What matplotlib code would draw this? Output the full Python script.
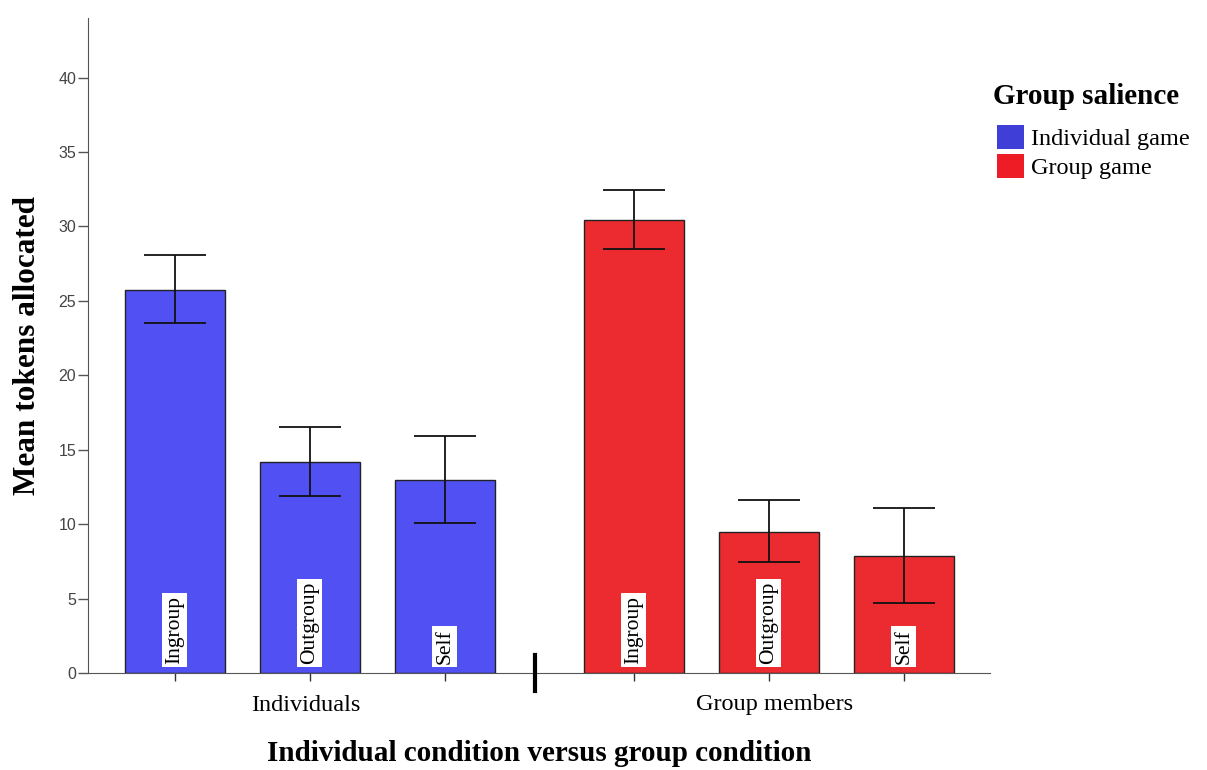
import matplotlib.pyplot as plt
from matplotlib.patches import Patch

# mean tokens and 95% CI bounds, per recipient within each condition
recipients = ["Ingroup", "Outgroup", "Self"]
groups = ["Individuals", "Group members"]
means_indiv = [25.75, 14.2, 12.97]
lo_indiv = [23.5, 11.9, 10.1]
hi_indiv = [28.1, 16.5, 15.95]
means_group = [30.45, 9.5, 7.87]
lo_group = [28.45, 7.45, 4.7]
hi_group = [32.47, 11.6, 11.1]
legend_title = "Group salience"
legend_labels = ["Individual game", "Group game"]

BLUE = "#5151F3"
RED = "#EC2B30"
SERIF = "Liberation Serif"

x_indiv = [0, 1, 2]
x_group = [3.4, 4.4, 5.4]

fig = plt.figure(figsize=(12.07, 7.7), dpi=100)
ax = fig.add_axes([88 / 1207, 97 / 770, (990 - 88) / 1207, 655 / 770])

for xs, m, lo, hi, col in [(x_indiv, means_indiv, lo_indiv, hi_indiv, BLUE),
                           (x_group, means_group, lo_group, hi_group, RED)]:
    ax.bar(xs, m, width=0.74, color=col, edgecolor="#222222", linewidth=1.0, zorder=2)
    err = [[a - b for a, b in zip(m, lo)], [b - a for a, b in zip(m, hi)]]
    ax.errorbar(xs, m, yerr=err, fmt="none", ecolor="#111111", elinewidth=1.3,
                capsize=22, capthick=1.3, zorder=3)
    for xi, name in zip(xs, recipients):
        ax.text(xi, 0.6, name, rotation=90, ha="center", va="bottom",
                family=SERIF, fontsize=15.5, zorder=4,
                bbox=dict(facecolor="white", edgecolor="none", pad=2.2))

ax.set_xlim(-0.644, 6.04)
ax.set_ylim(0, 44.0)
ax.set_yticks(range(0, 45, 5))
ax.set_xticks(x_indiv + x_group)
ax.set_xticklabels([])
ax.tick_params(axis="x", direction="out", length=6, width=1, color="#333333")
ax.tick_params(axis="y", direction="out", length=7.5, width=1, color="#555555",
               labelsize=11.5, labelcolor="#444444", pad=1)
for lab in ax.get_yticklabels():
    lab.set_family("Liberation Sans")

for side in ["top", "right"]:
    ax.spines[side].set_visible(False)
ax.spines["left"].set_color("#555555")
ax.spines["bottom"].set_color("#555555")

# divider between the two conditions
ax.plot([2.67, 2.67], [-1.2, 1.2], color="black", lw=3, clip_on=False, zorder=5)

# condition labels under each cluster
ax.text(0.97, -2.2, groups[0], ha="center", va="center", family=SERIF, fontsize=17.5)
ax.text(4.44, -2.1, groups[1], ha="center", va="center", family=SERIF, fontsize=17.5)

ax.set_xlabel("Individual condition versus group condition", family=SERIF,
              fontsize=21, fontweight="bold", labelpad=39)
ax.set_ylabel("Mean tokens allocated", family=SERIF, fontsize=22.5,
              fontweight="bold", labelpad=12)

# legend: title set as its own text so it can sit a little higher
fig.text(993 / 1207, 1 - 97 / 770, legend_title, family=SERIF, fontsize=21,
         fontweight="bold", ha="left", va="center")
handles = [Patch(facecolor="#3F3FD8", edgecolor="none"), Patch(facecolor="#EE1C24", edgecolor="none")]
fig.legend(handles, legend_labels, loc="upper left",
           bbox_to_anchor=(980 / 1207, 1 - 108 / 770), frameon=False,
           prop={"family": SERIF, "size": 17.5}, handlelength=1.1,
           handleheight=1.15, handletextpad=0.3, labelspacing=0.15,
           borderpad=0.2)

fig.savefig("out.png", dpi=100)
